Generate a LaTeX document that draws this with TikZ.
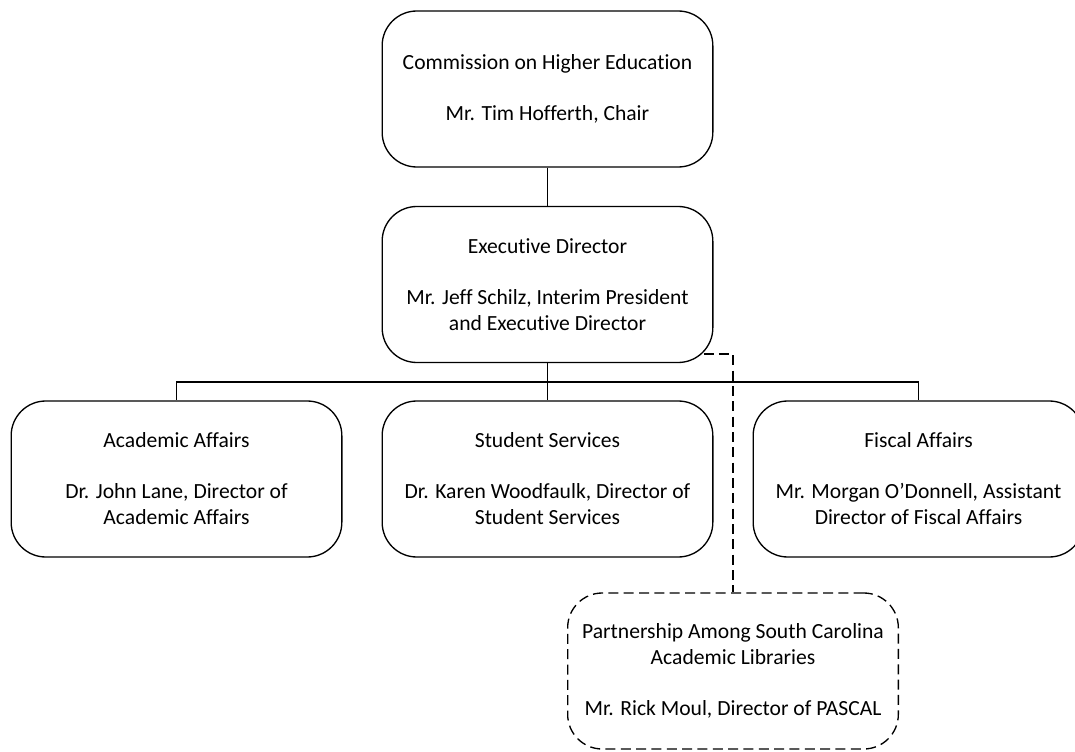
\documentclass[tikz,border=0pt]{standalone}
\usepackage{fontspec}
\setmainfont[Ligatures={NoCommon}]{Carlito}
\begin{document}
\begin{tikzpicture}[x=0.75pt,y=-0.75pt,
                    line width=1pt,
                    font=\fontsize{16.2}{19.5}\selectfont]
    \tikzstyle{unit}=[draw,rounded corners=26pt,minimum width=248pt,minimum height=117pt,align=center,inner sep=0pt]
    \tikzstyle{affiliate}=[unit, dash pattern=on 7.5pt off 4pt];
    \tikzstyle{dottedlink}=[dash pattern=on 7.5pt off 4pt];

    \useasboundingbox (0,0) rectangle (1075,752);
    \clip (0,0) rectangle (1075,752);

    \node[unit] (che) at (547.5,89) {Commission on Higher Education\\[18.75pt]Mr. Tim Hofferth, Chair};
    \node[unit] (exec) at (547.5,284.5) {Executive Director\\[18.75pt]Mr. Jeff Schilz, Interim President\\and Executive Director};
    \node[unit] (acad) at (176.5,479) {Academic Affairs\\[18.75pt]Dr. John Lane, Director of\\Academic Affairs};
    \node[unit] (student) at (547.5,479) {Student Services\\[18.75pt]Dr. Karen Woodfaulk, Director of\\Student Services};
    \node[unit] (fiscal) at (918.5,479) {Fiscal Affairs\\[18.75pt]Mr. Morgan O'Donnell, Assistant\\Director of Fiscal Affairs};
    \node[affiliate] (pascal) at (733,671) {Partnership Among South Carolina\\Academic Libraries\\[18.75pt]Mr. Rick Moul, Director of PASCAL};

    \coordinate (bus) at (547.5,382);
    \draw (che) -- (exec);
    \draw (exec) -- (bus) -| (acad);
    \draw (bus) -- (student);
    \draw (bus) -| (fiscal);
    \draw[dottedlink] ([shift={(-7.5pt,6.75pt)}]exec.south east) -| (pascal.north);
\end{tikzpicture}
\end{document}
